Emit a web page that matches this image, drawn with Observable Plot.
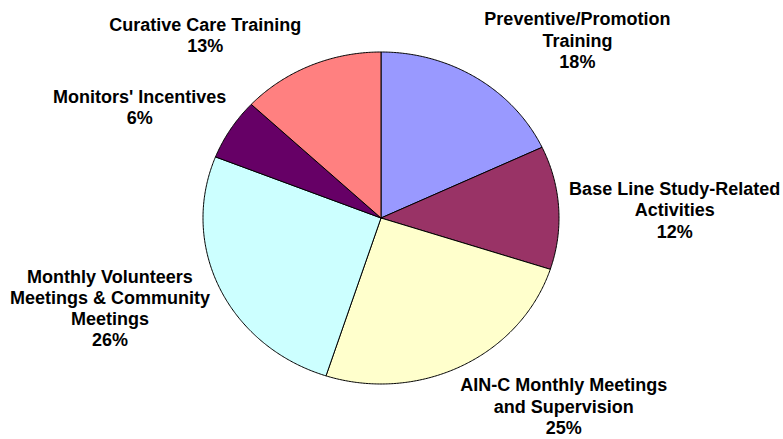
<!DOCTYPE html>
<html><head><meta charset="utf-8">
<script src="https://cdn.jsdelivr.net/npm/d3@7"></script>
<script src="https://cdn.jsdelivr.net/npm/@observablehq/plot@0.6"></script>
<style>html,body{margin:0;padding:0;background:#fff;} svg{display:block}</style>
</head><body><div id="chart"></div>
<script>
const categories = [
  "Preventive/Promotion Training",
  "Base Line Study-Related Activities",
  "AIN-C Monthly Meetings and Supervision",
  "Monthly Volunteers Meetings & Community Meetings",
  "Monitors' Incentives",
  "Curative Care Training"
];
const values = [18, 12, 25, 26, 6, 13];
const labelLines = [
  "Preventive/Promotion\nTraining",
  "Base Line Study-Related\nActivities",
  "AIN-C Monthly Meetings\nand Supervision",
  "Monthly Volunteers\nMeetings & Community\nMeetings",
  "Monitors' Incentives",
  "Curative Care Training"
];
const colors = ["#9999FF", "#993366", "#FFFFCC", "#CCFFFF", "#660066", "#FF8080"];
// label offsets (pixels) from the slice's outer mid-point
const labelNudge = [[101, -38], [116, 2], [102, 40], [-110, 19], [-91, -22], [-105, -31]];

const arcs = d3.pie().sort(null).value(d => d.value)(
  categories.map((name, i) => ({name, value: values[i]}))
);

const slicePts = [];
for (const a of arcs) {
  slicePts.push({name: a.data.name, x: 0, y: 0});
  const n = Math.max(2, Math.ceil((a.endAngle - a.startAngle) / (Math.PI / 360)));
  for (let k = 0; k <= n; k++) {
    const t = a.startAngle + (a.endAngle - a.startAngle) * k / n;
    slicePts.push({name: a.data.name, x: Math.sin(t), y: Math.cos(t)});
  }
  slicePts.push({name: a.data.name, x: 0, y: 0});
}

const textMarks = arcs.map((a, i) => {
  const m = (a.startAngle + a.endAngle) / 2;
  return Plot.text([{x: Math.sin(m), y: Math.cos(m), label: `${labelLines[i]}\n${values[i]}%`}], {
    x: "x", y: "y", text: "label",
    dx: labelNudge[i][0], dy: labelNudge[i][1],
    fontSize: 18, fontWeight: "bold",
    fontFamily: "'Liberation Sans', Arial, sans-serif",
    fill: "#000", lineHeight: 1.18
  });
});

const chart = Plot.plot({
  width: 783, height: 439, margin: 0,
  x: {domain: [-1, 1], range: [202.5, 558.5], axis: null},
  y: {domain: [-1, 1], range: [383.5, 51.5], axis: null},
  color: {domain: categories, range: colors},
  style: {background: "#fff"},
  marks: [
    Plot.line(slicePts, {x: "x", y: "y", z: "name", fill: "name", stroke: "#000", strokeWidth: 1, strokeLinejoin: "round", curve: "linear"}),
    ...textMarks
  ]
});
document.getElementById("chart").append(chart);
</script>
</body></html>
